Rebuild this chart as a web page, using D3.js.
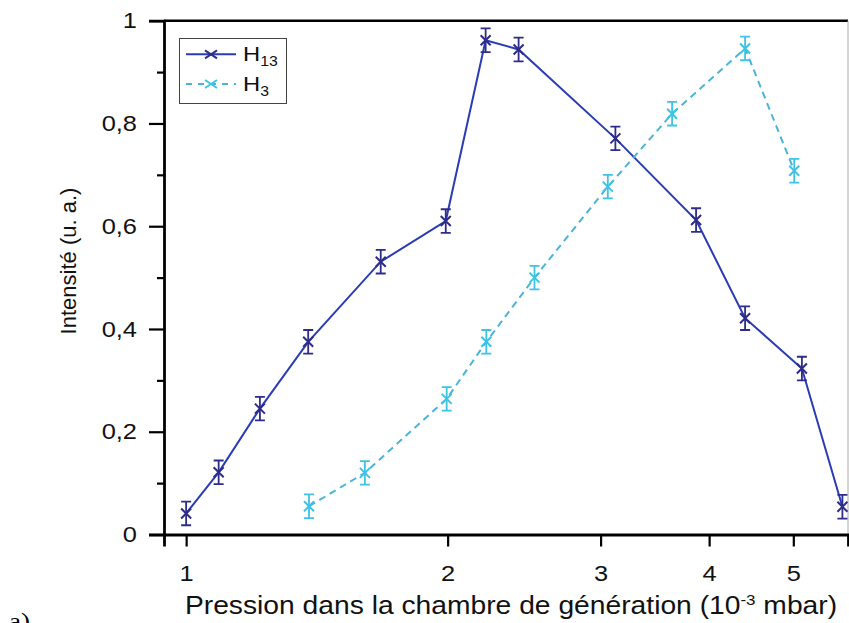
<!DOCTYPE html>
<html>
<head>
<meta charset="utf-8">
<script src="https://cdn.jsdelivr.net/npm/d3@7"></script>
<style>
  body { margin: 0; background: #fff; }
  svg { display: block; font-family: Arial, "Liberation Sans", sans-serif; }
</style>
</head>
<body>
<svg id="chart" width="849" height="623"></svg>
<script>
// pression (10^-3 mbar) / intensité (u. a.)
const pressH13 = [1.00, 1.09, 1.216, 1.382, 1.675, 1.99, 2.212, 2.414, 3.12, 3.864, 4.40, 5.115, 5.695];
const intH13 = [0.041, 0.121, 0.245, 0.375, 0.531, 0.610, 0.962, 0.944, 0.771, 0.612, 0.421, 0.323, 0.054];
const errH13 = [0.023, 0.023, 0.023, 0.023, 0.023, 0.023, 0.023, 0.023, 0.023, 0.023, 0.023, 0.023, 0.023];

const pressH3 = [1.385, 1.606, 1.995, 2.216, 2.518, 3.058, 3.626, 4.40, 5.012];
const intH3 = [0.055, 0.120, 0.264, 0.375, 0.500, 0.677, 0.819, 0.946, 0.708];
const errH3 = [0.023, 0.023, 0.023, 0.023, 0.023, 0.023, 0.023, 0.023, 0.023];

const xTicks = [1, 2, 3, 4, 5];
const yTicks = [0, 0.2, 0.4, 0.6, 0.8, 1];
const yMinorTicks = [0.1, 0.3, 0.5, 0.7, 0.9];

const series = [
    { name: 'H', sub: '13', x: pressH13, y: intH13, err: errH13,
      line: '#2a3cb4', mark: '#2e2c88', dash: null },
    { name: 'H', sub: '3', x: pressH3, y: intH3, err: errH3,
      line: '#4ab4d8', mark: '#3ec3e6', dash: '7,5' }
];

const svg = d3.select('#chart');
const plot = { left: 164, right: 848, top: 20.7, bottom: 534.5 };
const stretch = 1.13; // the source picture is a bit wide

const x = d3.scaleLog().domain([0.943, 5.78]).range([plot.left, plot.right]);
const y = d3.scaleLinear().domain([0, 1]).range([plot.bottom, plot.top]);

// french decimal comma
const fr = d3.formatLocale({ decimal: ',', thousands: ' ', grouping: [3], currency: ['', ' €'] });

// frame: top + right
svg.append('line')
    .attr('x1', plot.left).attr('x2', plot.right).attr('y1', plot.top).attr('y2', plot.top)
    .attr('stroke', '#000').attr('stroke-width', 2.5);
svg.append('line')
    .attr('x1', plot.right).attr('x2', plot.right).attr('y1', plot.top).attr('y2', plot.bottom)
    .attr('stroke', '#aaa').attr('stroke-width', 1);

// axes
let yAxis = svg.append('g')
    .attr('transform', `translate(${plot.left},0)`)
    .call(d3.axisLeft(y).tickValues(yTicks).tickSize(15).tickPadding(12).tickFormat(fr.format('~g')));
svg.append('g')
    .attr('transform', `translate(${plot.left},0)`)
    .call(d3.axisLeft(y).tickValues(yMinorTicks).tickSize(7).tickFormat(''))
    .call(g => g.select('.domain').remove());
let xAxis = svg.append('g')
    .attr('transform', `translate(0,${plot.bottom})`)
    .call(d3.axisBottom(x).tickValues(xTicks).tickSize(12).tickPadding(19).tickFormat(d3.format('d')));

svg.selectAll('.tick line').attr('stroke', '#000').attr('stroke-width', 2.2);
svg.selectAll('.domain').attr('stroke', '#000').attr('stroke-width', 2.8);
[yAxis, xAxis].forEach(g => g.selectAll('.tick text')
    .attr('fill', '#111')
    .attr('transform', `scale(${stretch},1)`)
    .style('font-size', '22.5px')
    .style('font-family', 'Arial, "Liberation Sans", sans-serif'));
yAxis.selectAll('.tick text').attr('x', -27 / stretch);

// axis titles
svg.append('text')
    .attr('transform', 'translate(76,261) rotate(-90)')
    .attr('text-anchor', 'middle')
    .style('font-size', '22px')
    .attr('fill', '#111')
    .text('Intensité (u. a.)');

let xt = svg.append('text')
    .attr('transform', `translate(511,614) scale(${stretch},1)`)
    .attr('text-anchor', 'middle')
    .style('font-size', '25px')
    .attr('fill', '#111');
xt.append('tspan').text('Pression dans la chambre de génération (10');
xt.append('tspan').attr('dy', -9).style('font-size', '15px').text('-3');
xt.append('tspan').attr('dy', 9).text(' mbar)');

svg.append('text')
    .attr('transform', `translate(9,629) scale(${stretch},1)`)
    .style('font-family', '"Liberation Serif", "Times New Roman", serif')
    .style('font-size', '24px')
    .text('a)');

// series
const cap = 5, mk = 5;
series.forEach(s => {
    let pts = s.x.map((px, i) => ({ px: px, v: s.y[i], e: s.err[i] }));
    let g = svg.append('g');

    g.append('path')
        .datum(pts)
        .attr('fill', 'none')
        .attr('stroke', s.line)
        .attr('stroke-width', 2)
        .attr('stroke-dasharray', s.dash)
        .attr('d', d3.line().x(d => x(d.px)).y(d => y(d.v)));

    // error bars
    g.selectAll('.err').data(pts).enter().append('path')
        .attr('class', 'err')
        .attr('fill', 'none')
        .attr('stroke', s.mark)
        .attr('stroke-width', 1.8)
        .attr('d', d => {
            let cx = x(d.px), y0 = y(d.v - d.e), y1 = y(d.v + d.e);
            return `M${cx},${y0}V${y1}M${cx - cap},${y0}H${cx + cap}M${cx - cap},${y1}H${cx + cap}`;
        });

    // x markers
    g.selectAll('.mk').data(pts).enter().append('path')
        .attr('class', 'mk')
        .attr('fill', 'none')
        .attr('stroke', s.mark)
        .attr('stroke-width', 2)
        .attr('d', d => {
            let cx = x(d.px), cy = y(d.v);
            return `M${cx - mk},${cy - mk}L${cx + mk},${cy + mk}M${cx - mk},${cy + mk}L${cx + mk},${cy - mk}`;
        });
});

// legend
let lg = svg.append('g');
lg.append('rect')
    .attr('x', 179.5).attr('y', 38.5).attr('width', 107).attr('height', 65)
    .attr('fill', '#fff').attr('stroke', '#444').attr('stroke-width', 1);
series.forEach((s, i) => {
    let ly = 54.3 + i * 29.7;
    lg.append('line')
        .attr('x1', 186).attr('x2', 236).attr('y1', ly).attr('y2', ly)
        .attr('stroke', s.line).attr('stroke-width', 2)
        .attr('stroke-dasharray', s.dash ? '6,6' : null);
    lg.append('path')
        .attr('fill', 'none').attr('stroke', s.mark).attr('stroke-width', 2)
        .attr('d', `M${211 - 6},${ly - 4}L${211 + 6},${ly + 4}M${211 - 6},${ly + 4}L${211 + 6},${ly - 4}`);
    let t = lg.append('text')
        .attr('transform', `translate(243,${ly + 7}) scale(${stretch},1)`)
        .style('font-size', '21px').attr('fill', '#111');
    t.append('tspan').text(s.name);
    t.append('tspan').attr('dy', 5).style('font-size', '14px').text(s.sub);
});
</script>
</body>
</html>
